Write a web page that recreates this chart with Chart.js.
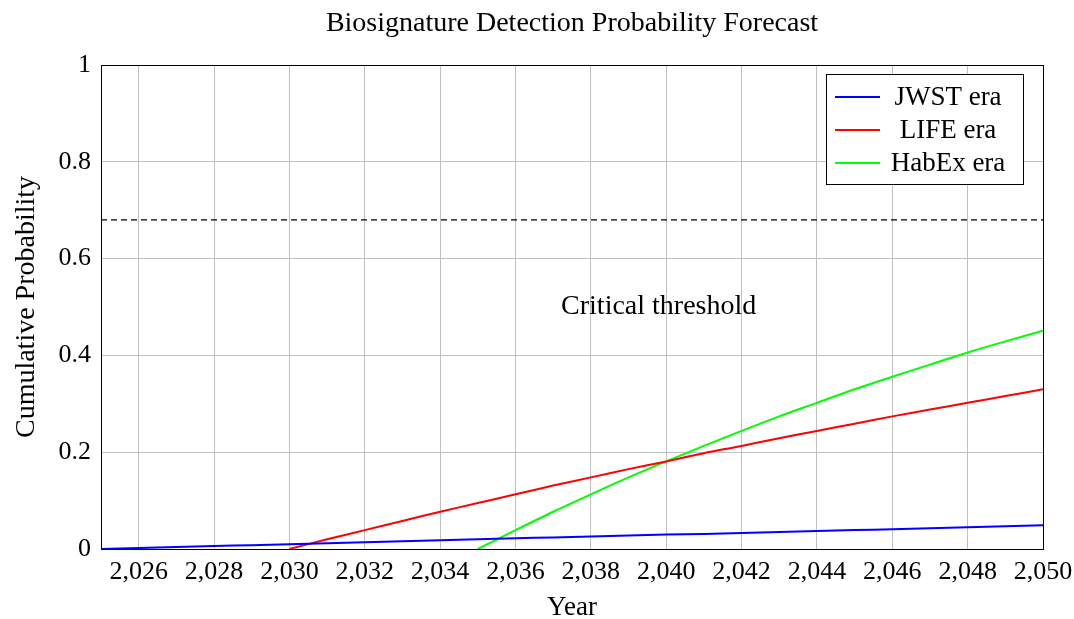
<!DOCTYPE html>
<html>
<head>
<meta charset="utf-8">
<script src="https://cdn.jsdelivr.net/npm/chart.js@4"></script>
<style>
  html, body { margin: 0; padding: 0; background: #fff; }
  #wrap { width: 1074px; height: 619px; }
</style>
</head>
<body>
<div id="wrap"><canvas id="chart"></canvas></div>
<script>
// Data
const years = [2025, 2026, 2027, 2028, 2029, 2030, 2031, 2032, 2033, 2034, 2035, 2036, 2037,
               2038, 2039, 2040, 2041, 2042, 2043, 2044, 2045, 2046, 2047, 2048, 2049, 2050];
const jwst = [0, 0.002, 0.004, 0.006, 0.008, 0.010, 0.012, 0.014, 0.016, 0.018, 0.020, 0.022, 0.024,
              0.026, 0.028, 0.030, 0.031, 0.033, 0.035, 0.037, 0.039, 0.041, 0.043, 0.045, 0.047, 0.049];
const lifeYears = years.slice(5);
const life = [0, 0.020, 0.039, 0.058, 0.077, 0.095, 0.113, 0.131, 0.148, 0.165, 0.181,
              0.198, 0.213, 0.229, 0.244, 0.259, 0.274, 0.288, 0.302, 0.316, 0.330];
const habexYears = years.slice(10);
const habex = [0, 0.039, 0.077, 0.113, 0.148, 0.181, 0.213, 0.244, 0.274, 0.302, 0.330,
               0.356, 0.381, 0.406, 0.429, 0.451];
const threshold = 0.68;
const xTicks = [2026, 2028, 2030, 2032, 2034, 2036, 2038, 2040, 2042, 2044, 2046, 2048, 2050];
const yTicks = [0, 0.2, 0.4, 0.6, 0.8, 1];

const FONT = "'Liberation Serif', 'DejaVu Serif', serif";
const TITLE = 'Biosignature Detection Probability Forecast';

const toPts = (xs, ys) => xs.map((x, i) => ({ x: x, y: ys[i] }));

const series = [
    { label: 'JWST era', data: toPts(years, jwst), color: '#0000ff' },
    { label: 'LIFE era', data: toPts(lifeYears, life), color: '#ff0000' },
    { label: 'HabEx era', data: toPts(habexYears, habex), color: '#00ff00' }
];

// title, frame, threshold label and boxed legend
const extrasPlugin = {
    id: 'extras',
    afterDatasetsDraw(chart) {
        const { ctx, chartArea: a, scales } = chart;
        ctx.save();
        ctx.strokeStyle = '#000';
        ctx.lineWidth = 1;
        ctx.strokeRect(a.left + 0.5, a.top + 0.5, a.right - a.left, a.bottom - a.top);

        ctx.fillStyle = '#000';
        ctx.textAlign = 'center';
        ctx.textBaseline = 'middle';
        ctx.font = '28px ' + FONT;
        ctx.fillText(TITLE, (a.left + a.right) / 2, 24);

        ctx.fillText('Critical threshold', scales.x.getPixelForValue(2039.8), scales.y.getPixelForValue(0.5));

        // legend
        const bx = 826, by = 74, bw = 197, bh = 110;
        ctx.fillStyle = '#fff';
        ctx.fillRect(bx, by, bw, bh);
        ctx.strokeRect(bx + 0.5, by + 0.5, bw, bh);
        ctx.font = '27px ' + FONT;
        series.forEach((s, i) => {
            const y = 97 + i * 33;
            ctx.strokeStyle = s.color;
            ctx.lineWidth = 2;
            ctx.beginPath();
            ctx.moveTo(835, y);
            ctx.lineTo(880, y);
            ctx.stroke();
            ctx.fillStyle = '#000';
            ctx.fillText(s.label, 948, y + 1);
        });
        ctx.restore();
    }
};

const datasets = series.map(s => ({
    label: s.label,
    data: s.data,
    borderColor: s.color,
    backgroundColor: s.color,
    borderWidth: 2,
    pointRadius: 0,
    tension: 0.3
}));
datasets.push({
    label: 'threshold',
    data: [{ x: 2025, y: threshold }, { x: 2050, y: threshold }],
    borderColor: '#000',
    borderWidth: 1.4,
    borderDash: [6, 4],
    pointRadius: 0
});

new Chart(document.getElementById('chart'), {
    type: 'line',
    data: { datasets: datasets },
    options: {
        responsive: true,
        maintainAspectRatio: false,
        animation: false,
        layout: { padding: { left: 0, right: 31, top: 65, bottom: 0 } },
        plugins: {
            legend: { display: false },
            tooltip: { enabled: false },
            title: { display: false }
        },
        scales: {
            x: {
                type: 'linear',
                min: 2025,
                max: 2050,
                afterBuildTicks: scale => { scale.ticks = xTicks.map(v => ({ value: v })); },
                afterFit: scale => {
                    scale.height = 70;
                    scale.paddingLeft = 0;
                    scale.paddingRight = 0;
                },
                grid: { color: '#c0c0c0', drawTicks: false },
                border: { display: false },
                ticks: {
                    color: '#000',
                    padding: 8,
                    maxRotation: 0,
                    font: { family: FONT, size: 26 },
                    callback: v => v.toLocaleString('en-US')
                },
                title: {
                    display: true,
                    text: 'Year',
                    color: '#000',
                    font: { family: FONT, size: 27 },
                    padding: { top: 14, bottom: -5 }
                }
            },
            y: {
                min: 0,
                max: 1,
                afterBuildTicks: scale => { scale.ticks = yTicks.map(v => ({ value: v })); },
                afterFit: scale => {
                    scale.width = 101;
                    scale.paddingTop = 0;
                    scale.paddingBottom = 0;
                },
                grid: { color: '#c0c0c0', drawTicks: false },
                border: { display: false },
                ticks: {
                    color: '#000',
                    padding: 10,
                    font: { family: FONT, size: 26 },
                    callback: v => String(v)
                },
                title: {
                    display: true,
                    text: 'Cumulative Probability',
                    color: '#000',
                    font: { family: FONT, size: 28 },
                    padding: { top: 10, bottom: 0 }
                }
            }
        }
    },
    plugins: [extrasPlugin]
});
</script>
</body>
</html>
